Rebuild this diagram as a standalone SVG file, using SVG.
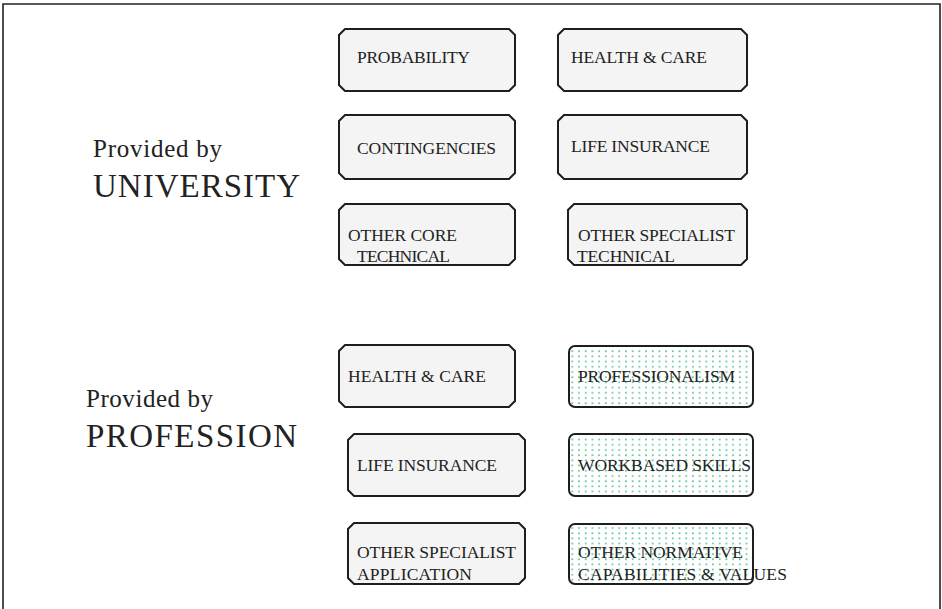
<svg xmlns="http://www.w3.org/2000/svg" width="942" height="609" viewBox="0 0 942 609">
<style>
.plain{fill:#f4f4f4;stroke:#1e1e1e;stroke-width:2}
.dot{fill:url(#dots);stroke:#1e1e1e;stroke-width:2}
.t{font-family:"Liberation Serif","Times New Roman",serif;font-size:17.5px;fill:#222}
.lbl{font-family:"Liberation Serif","Times New Roman",serif;font-size:25px;fill:#222}
.big{font-family:"Liberation Serif","Times New Roman",serif;font-size:33px;fill:#222}
</style>
<defs>
<pattern id="dots" width="6.7" height="5.2" patternUnits="userSpaceOnUse">
<rect width="6.7" height="5.2" fill="#ffffff"/>
<rect x="2" y="2" width="1.6" height="1.6" fill="#49c08a"/>
</pattern>
</defs>
<rect width="942" height="609" fill="#ffffff"/>
<path d="M3,609 V4 H940 V609" fill="none" stroke="#222" stroke-width="1.6"/>
<g id="label-university">
<text class="lbl" x="93" y="157" textLength="129">Provided by</text>
<text class="big" x="93" y="197" textLength="207">UNIVERSITY</text>
</g>
<g id="label-profession">
<text class="lbl" x="86" y="407" textLength="127">Provided by</text>
<text class="big" x="86" y="447" textLength="211">PROFESSION</text>
</g>
<g id="n-probability"><path class="plain" d="M345,29 H509 L515,35 V85 L509,91 H345 L339,85 V35 Z"/><text class="t" x="357" y="63" textLength="113">PROBABILITY</text></g>
<g id="n-health-care-u"><path class="plain" d="M564,29 H741 L747,35 V85 L741,91 H564 L558,85 V35 Z"/><text class="t" x="571" y="63" textLength="136">HEALTH &amp; CARE</text></g>
<g id="n-contingencies"><path class="plain" d="M345,115 H509 L515,121 V173 L509,179 H345 L339,173 V121 Z"/><text class="t" x="357" y="154" textLength="139">CONTINGENCIES</text></g>
<g id="n-life-insurance-u"><path class="plain" d="M564,115 H741 L747,121 V173 L741,179 H564 L558,173 V121 Z"/><text class="t" x="571" y="152" textLength="139">LIFE INSURANCE</text></g>
<g id="n-other-core"><path class="plain" d="M345,204 H509 L515,210 V259 L509,265 H345 L339,259 V210 Z"/><text class="t" x="348" y="241" textLength="109">OTHER CORE</text><text class="t" x="357" y="262" textLength="93">TECHNICAL</text></g>
<g id="n-other-specialist-tech"><path class="plain" d="M574,204 H741 L747,210 V259 L741,265 H574 L568,259 V210 Z"/><text class="t" x="578" y="241" textLength="157">OTHER SPECIALIST</text><text class="t" x="577" y="262" textLength="98">TECHNICAL</text></g>
<g id="n-health-care-p"><path class="plain" d="M345,345 H509 L515,351 V401 L509,407 H345 L339,401 V351 Z"/><text class="t" x="348" y="382" textLength="138">HEALTH &amp; CARE</text></g>
<g id="n-professionalism"><rect class="dot" x="569" y="346" width="184" height="61" rx="6"/><text class="t" x="578" y="382" textLength="157">PROFESSIONALISM</text></g>
<g id="n-life-insurance-p"><path class="plain" d="M354,434 H519 L525,440 V490 L519,496 H354 L348,490 V440 Z"/><text class="t" x="357" y="471" textLength="140">LIFE INSURANCE</text></g>
<g id="n-workbased"><rect class="dot" x="569" y="434" width="184" height="62" rx="6"/><text class="t" x="578" y="471" textLength="173">WORKBASED SKILLS</text></g>
<g id="n-other-specialist-app"><path class="plain" d="M354,523 H519 L525,529 V578 L519,584 H354 L348,578 V529 Z"/><text class="t" x="357" y="558" textLength="159">OTHER SPECIALIST</text><text class="t" x="357" y="580" textLength="115">APPLICATION</text></g>
<g id="n-other-normative"><rect class="dot" x="569" y="524" width="184" height="60" rx="6"/><text class="t" x="578" y="558" textLength="165">OTHER NORMATIVE</text><text class="t" x="578" y="580" textLength="209">CAPABILITIES &amp; VALUES</text></g>
<g id="connectors"/>
</svg>
